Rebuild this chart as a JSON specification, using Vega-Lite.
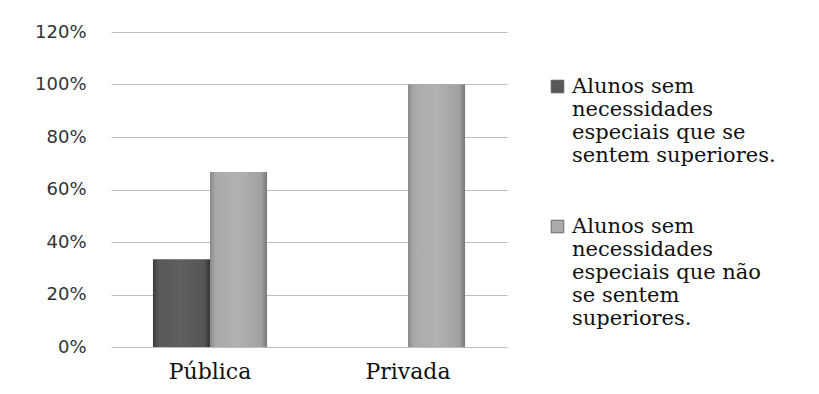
{
  "$schema": "https://vega.github.io/schema/vega-lite/v6.json",
  "width": 396,
  "height": 315,
  "autosize": {"type": "none"},
  "padding": {"left": 111, "top": 32, "right": 312, "bottom": 47},
  "background": "white",
  "data": {
    "values": [
      {"escola": "Pública", "serie": "Alunos sem necessidades especiais que se sentem superiores.", "valor": 0.333},
      {"escola": "Pública", "serie": "Alunos sem necessidades especiais que não se sentem superiores.", "valor": 0.667},
      {"escola": "Privada", "serie": "Alunos sem necessidades especiais que se sentem superiores.", "valor": 0},
      {"escola": "Privada", "serie": "Alunos sem necessidades especiais que não se sentem superiores.", "valor": 1.0}
    ]
  },
  "encoding": {
    "x": {
      "field": "escola", "type": "nominal", "sort": ["Pública", "Privada"],
      "scale": {"paddingInner": 0.424, "paddingOuter": 0.212},
      "axis": {"title": null, "labelAngle": 0, "domain": false, "ticks": false, "labelFont": "DejaVu Serif", "labelFontSize": 22, "labelColor": "#111111", "labelPadding": 14}
    },
    "xOffset": {"field": "serie", "type": "nominal", "sort": ["Alunos sem necessidades especiais que se sentem superiores.", "Alunos sem necessidades especiais que não se sentem superiores."]},
    "y": {
      "field": "valor", "type": "quantitative",
      "scale": {"domain": [0, 1.2]},
      "axis": {"title": null, "format": ".0%", "values": [0, 0.2, 0.4, 0.6, 0.8, 1.0, 1.2], "domain": false, "ticks": false, "gridColor": "#bdbdbd", "gridOpacity": 1, "labelFont": "DejaVu Sans", "labelFontSize": 18, "labelColor": "#333333", "labelPadding": 25}
    }
  },
  "layer": [
    {
      "mark": {"type": "bar"},
      "encoding": {
        "color": {
          "field": "serie", "type": "nominal",
          "sort": ["Alunos sem necessidades especiais que se sentem superiores.", "Alunos sem necessidades especiais que não se sentem superiores."],
          "scale": {"range": ["#585858", "#aaaaaa"]},
          "legend": {
            "title": null,
            "orient": "none",
            "legendX": 436,
            "legendY": 44,
            "symbolType": "square",
            "symbolSize": 160,
            "symbolStrokeColor": "#555555",
            "symbolStrokeWidth": 0.8,
            "labelFont": "DejaVu Serif",
            "labelFontSize": 21,
            "labelLineHeight": 26,
            "labelColor": "#111111",
            "labelBaseline": "middle",
            "labelLimit": 0,
            "labelOffset": 4,
            "rowPadding": 49,
            "labelExpr": "indexof(datum.label, 'não') >= 0 ? ['Alunos sem', 'necessidades', 'especiais que não', 'se sentem', 'superiores.'] : ['Alunos sem', 'necessidades', 'especiais que se', 'sentem superiores.']"
          }
        }
      }
    },
    {
      "mark": {"type": "bar"},
      "encoding": {
        "fill": {
          "condition": {
            "test": "indexof(datum.serie, 'não') < 0",
            "value": {"gradient": "linear", "x1": 0, "y1": 0, "x2": 1, "y2": 0, "stops": [{"offset": 0, "color": "#3c3c3c"}, {"offset": 0.1, "color": "#585858"}, {"offset": 0.5, "color": "#5f5f5f"}, {"offset": 0.9, "color": "#555555"}, {"offset": 1, "color": "#333333"}]}
          },
          "value": {"gradient": "linear", "x1": 0, "y1": 0, "x2": 1, "y2": 0, "stops": [{"offset": 0, "color": "#8a8a8a"}, {"offset": 0.1, "color": "#a9a9a9"}, {"offset": 0.5, "color": "#b2b2b2"}, {"offset": 0.9, "color": "#a0a0a0"}, {"offset": 1, "color": "#777777"}]}
        }
      }
    }
  ],
  "config": {"view": {"stroke": null}}
}
